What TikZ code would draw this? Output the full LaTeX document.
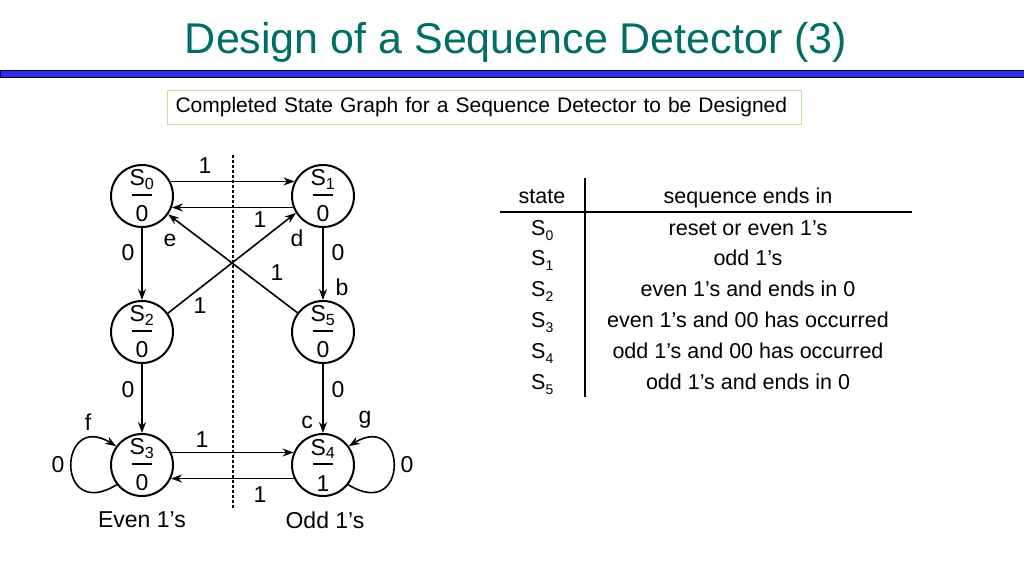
\documentclass[tikz,border=0pt]{standalone}
\usepackage{fontspec}
\setmainfont{Liberation Sans}
\usetikzlibrary{arrows.meta}

\definecolor{titleteal}{RGB}{0,110,100}
\definecolor{barblue}{RGB}{45,45,225}
\definecolor{boxgreen}{RGB}{185,225,160}

% state circle text: name over a bar over the output
\newcommand{\stname}[2]{S\textsubscript{#1}\\\rule[8pt]{20pt}{1.6pt}\\#2}

\begin{document}
\begin{tikzpicture}[x=1pt,y=1pt]

	% INPUTS:
	\newcommand{\xlvar}{142}	% x of the even 1's column
	\newcommand{\xrvar}{323}	% x of the odd 1's column
	\newcommand{\yavar}{196}	% top row
	\newcommand{\ybvar}{332}	% middle row
	\newcommand{\ycvar}{465}	% bottom row

	% styles
	\tikzstyle{stnode}=[circle,draw,line width=2pt,minimum size=62pt,inner sep=0pt,align=center,font=\fontsize{23}{18}\selectfont]
	\tikzstyle{arr}=[line width=1.6pt,-{Stealth[length=11pt,width=8pt]}]
	\tikzstyle{lbl}=[inner sep=0pt,font=\fontsize{23}{27}\selectfont]
	\tikzstyle{tabtext}=[inner sep=0pt,anchor=base,font=\fontsize{21.5}{25}\selectfont]

	\useasboundingbox (0,0) rectangle (1024,-576);

	% title and blue bar
	\node[font=\fontsize{43}{50}\selectfont,text=titleteal] (title) at (516,-42) {Design of a Sequence Detector (3)};
	\draw[fill=barblue,draw=black!75!blue,line width=0.8pt] (0,-70) rectangle (1024,-77);

	\node[draw=boxgreen,line width=1pt,anchor=west,text width=618pt,inner xsep=8pt,minimum height=34pt,align=left,font=\fontsize{21}{25}\selectfont] (caption) at (167,-107) {Completed State Graph for a Sequence Detector to be Designed};

	% the six states
	\node[stnode] (s0) at (\xlvar,-\yavar) {\stname{0}{0}};
	\node[stnode] (s1) at (\xrvar,-\yavar) {\stname{1}{0}};
	\node[stnode] (s2) at (\xlvar,-\ybvar) {\stname{2}{0}};
	\node[stnode] (s5) at (\xrvar,-\ybvar) {\stname{5}{0}};
	\node[stnode] (s3) at (\xlvar,-\ycvar) {\stname{3}{0}};
	\node[stnode] (s4) at (\xrvar,-\ycvar) {\stname{4}{1}};

	% dividing line between even and odd
	\draw[line width=1.2pt,dash pattern=on 3pt off 2pt] (233,-155) -- (233,-510);

	% transitions
	\draw[arr] (s0.27) -- (s1.153);
	\draw[arr] (s1.201) -- (s0.339);
	\draw[arr] (s0.south) -- (s2.north);
	\draw[arr] (s1.south) -- (s5.north);
	\draw[arr] (s2.south) -- (s3.north);
	\draw[arr] (s5.south) -- (s4.north);
	\draw[arr] (s2.36) -- (s1.212);
	\draw[arr] (s5.143) -- (s0.325);
	\draw[arr] (s3.23) -- (s4.157);
	\draw[arr] (s4.205) -- (s3.335);
	\draw[arr] (s3.218) .. controls +(-62,-38) and +(-58,36) .. (s3.144);
	\draw[arr] (s4.-38) .. controls +(62,-38) and +(58,36) .. (s4.36);

	% input labels
	\node[lbl] (l01) at (205,-166) {1};
	\node[lbl] (l10) at (260,-220) {1};
	\node[lbl] (l21) at (200,-306) {1};
	\node[lbl] (l50) at (277,-273) {1};
	\node[lbl] (l02) at (128,-253) {0};
	\node[lbl] (l15) at (338,-253) {0};
	\node[lbl] (l23) at (128,-390) {0};
	\node[lbl] (l54) at (338,-390) {0};
	\node[lbl] (l33) at (58,-465) {0};
	\node[lbl] (l44) at (407,-465) {0};
	\node[lbl] (l34) at (202,-440) {1};
	\node[lbl] (l43) at (260,-495) {1};

	% arc letters
	\node[lbl] (le) at (170,-240) {e};
	\node[lbl] (ld) at (297,-238) {d};
	\node[lbl] (lb) at (342,-287) {b};
	\node[lbl] (lc) at (307,-422) {c};
	\node[lbl] (lf) at (88,-422) {f};
	\node[lbl] (lg) at (365,-420) {g};

	\node[lbl] (even) at (\xlvar,-520) {Even 1’s};
	\node[lbl] (odd) at (325,-520) {Odd 1’s};

	% table of states
	\draw[line width=1.3pt] (585,-178) -- (585,-397);
	\draw[line width=1.3pt] (500,-212) -- (912,-212);
	\node[tabtext] (hstate) at (542,-203) {state};
	\node[tabtext] (hseq) at (748,-203) {sequence ends in};
	\foreach \n/\txt [count=\i from 0] in {0/reset or even 1’s,1/odd 1’s,2/even 1’s and ends in 0,3/even 1’s and 00 has occurred,4/odd 1’s and 00 has occurred,5/odd 1’s and ends in 0}{
		\node[tabtext,anchor=base west] (ts\n) at (531,-235-30.8*\i) {S\raisebox{-5pt}{\fontsize{14}{16}\selectfont\n}};
		\node[tabtext] (td\n) at (748,-235-30.8*\i) {\txt};
	}

\end{tikzpicture}
\end{document}
